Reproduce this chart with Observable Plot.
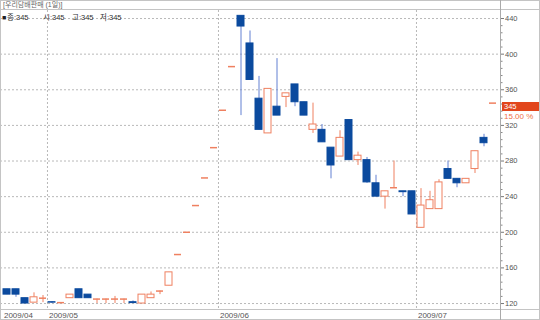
<!DOCTYPE html>
<html><head><meta charset="utf-8">
<script src="https://cdn.jsdelivr.net/npm/d3@7"></script>
<script src="https://cdn.jsdelivr.net/npm/@observablehq/plot@0.6"></script>
<style>
html,body{margin:0;padding:0;background:#fff;}
#c{position:relative;width:540px;height:320px;overflow:hidden;font-family:"Liberation Sans",Arial,"Noto Sans CJK KR",sans-serif;}
#c svg{position:absolute;left:0;top:0;}
.ln{position:absolute;background:#c4c4c4;}
.t{position:absolute;white-space:nowrap;}
</style></head><body><div id="c"></div>
<script>
const dates = ["2009-04-24","2009-04-27","2009-04-28","2009-04-29","2009-04-30",
"2009-05-04","2009-05-06","2009-05-07","2009-05-08","2009-05-11","2009-05-12","2009-05-13","2009-05-14","2009-05-15","2009-05-18","2009-05-19","2009-05-20","2009-05-21","2009-05-22","2009-05-25","2009-05-26","2009-05-27","2009-05-28","2009-05-29",
"2009-06-01","2009-06-02","2009-06-03","2009-06-04","2009-06-05","2009-06-08","2009-06-09","2009-06-10","2009-06-11","2009-06-12","2009-06-15","2009-06-16","2009-06-17","2009-06-18","2009-06-19","2009-06-22","2009-06-23","2009-06-24","2009-06-25","2009-06-26","2009-06-29","2009-06-30",
"2009-07-01","2009-07-02","2009-07-03","2009-07-06","2009-07-07","2009-07-08","2009-07-09","2009-07-10","2009-07-13"];
const open  = [136,136,126,121,126,121.5,121,126,136,130,125,125,125,125,121.5,120,126,134,140,175,200,230,261,295,337,386,443,412,350,311,341,352,366,346,315,315,295,285,326,281,281,255,240,250,246,246,205,226,226,271,260,255,271,306,345];
const high  = [136,136,126,132,129,122,121,130,136,130,125,125,128,125,123,130,133,134,155,175,200,230,261,295,337,386,443,426,375,361,395,356,366,346,345,321,295,314,326,290,284,264,246,280,246,246,249,246,259,280,260,260,291,310,345];
const low   = [130,127,120,121,121,120,121,126,126,126,120,120,120,120,120,120,126,130,140,175,200,230,261,295,337,386,331,371,315,311,331,340,341,331,311,301,260,285,281,275,255,240,226,250,240,220,205,226,226,260,250,255,266,296,345];
const close = [130,130,120,127,126,121,121,130,126,126,125,125,125,125,120.5,130,130,134,155,175,200,230,261,295,337,386,431,371,315,361,331,356,346,331,321,301,275,306,281,286,256,240,246,250,245,220,230,236,256,260,255,260,291,300,345];
const yTicks = [120,160,200,240,280,320,360,400,440];
const monthStarts = ["2009-04-24","2009-05-04","2009-06-01","2009-07-01"];
const monthLabels = ["2009/04","2009/05","2009/06","2009/07"];
const title = "[우리담배판매 (1일)]";
const legendItems = ["종:345","시:345","고:345","저:345"];
const lastPrice = 345;
const changeText = "15.00 %";

const data = dates.map((d,i)=>({date:d, open:open[i], high:high[i], low:low[i], close:close[i]}));
const isUp = d => d.close >= d.open;
const BLUE="#0b4a9e", BLUEW="#6280d2", ORANGE="#ef8060", GRID="#b9b9b9";
const W=540, H=320, mL=0, mR=40, mT=10, mB=11, PAD=0.2;
const step = (W-mL-mR)/(dates.length+PAD);
const minor = d3.range(120,441,8).filter(v=>!yTicks.includes(v));

const plot = Plot.plot({
  width:W, height:H, marginLeft:mL, marginRight:mR, marginTop:mT, marginBottom:mB,
  style:{fontFamily:'"Liberation Sans",Arial,"Noto Sans CJK KR",sans-serif', fontSize:"7.5px", color:"#555", background:"transparent", overflow:"visible"},
  x:{type:"band", domain:dates, padding:PAD, axis:null},
  y:{domain:[113.3,449], axis:null},
  marks:[
    Plot.ruleY(yTicks, {stroke:GRID, strokeDasharray:"2,2"}),
    Plot.ruleX(monthStarts.slice(1), {x:d=>d, dx:-step/2, stroke:GRID, strokeDasharray:"2,2"}),
    Plot.ruleX(data.filter(d=>!isUp(d)), {x:"date", y1:"low", y2:"high", stroke:BLUEW}),
    Plot.ruleX(data.filter(isUp), {x:"date", y1:"low", y2:"high", stroke:ORANGE}),
    Plot.barY(data.filter(d=>!isUp(d) && d.open!==d.close), {x:"date", y1:"open", y2:"close", fill:BLUE, stroke:BLUE}),
    Plot.barY(data.filter(d=>isUp(d) && d.open!==d.close), {x:"date", y1:"open", y2:"close", fill:"#fff", stroke:ORANGE}),
    Plot.tickY(data.filter(d=>d.open===d.close), {x:"date", y:"close", stroke:ORANGE, strokeWidth:1.5}),
    Plot.axisY(yTicks, {anchor:"right", tickSize:3, tickPadding:1.5, tickFormat:d=>String(d), fill:"#555", stroke:"#777"}),
    Plot.axisY(minor, {anchor:"right", tickSize:1.5, tickFormat:()=>"", stroke:"#888"}),
    Plot.text(monthStarts, {x:d=>d, text:(d,i)=>monthLabels[i], frameAnchor:"bottom", textAnchor:"start", lineAnchor:"middle", dx:-step/2+1.5, dy:6, fontSize:8, fill:"#555"})
  ]
});

const c = document.getElementById("c");
c.appendChild(plot);
function add(cls, css, text){const e=document.createElement("div");e.className=cls;e.style.cssText=css;if(text!=null)e.textContent=text;c.appendChild(e);return e;}
// frame lines
add("ln","left:0;top:0;width:540px;height:1px;");
add("ln","left:0;top:319px;width:540px;height:1px;");
add("ln","left:0;top:0;width:1px;height:320px;");
add("ln","left:539px;top:0;width:1px;height:320px;");
add("ln","left:0;top:9px;width:540px;height:1px;");
add("ln","left:0;top:309px;width:540px;height:1px;");
add("ln","left:500px;top:0;width:1px;height:320px;background:#aaa;");
// title & legend
add("t","left:3px;top:0px;font-size:7px;line-height:9px;color:#666;", title);
add("t","left:2px;top:13px;font-size:7px;line-height:9px;color:#222;", "■");
const lx=[7,43,72,100];
legendItems.forEach((s,i)=>add("t",`left:${lx[i]}px;top:13px;font-size:7.5px;line-height:9px;color:#333;`, s));
// price label
const yS = plot.scale("y");
const py = yS.apply(lastPrice);
add("t",`left:502px;top:${py-1}px;width:37px;height:9px;background:#e2461c;color:#fff;font-size:7.5px;line-height:9px;padding-left:2px;box-sizing:border-box;`, String(lastPrice));
add("t",`left:504px;top:${py+9}px;font-size:8px;line-height:9px;color:#ef6f45;`, changeText);
</script>
</body></html>
